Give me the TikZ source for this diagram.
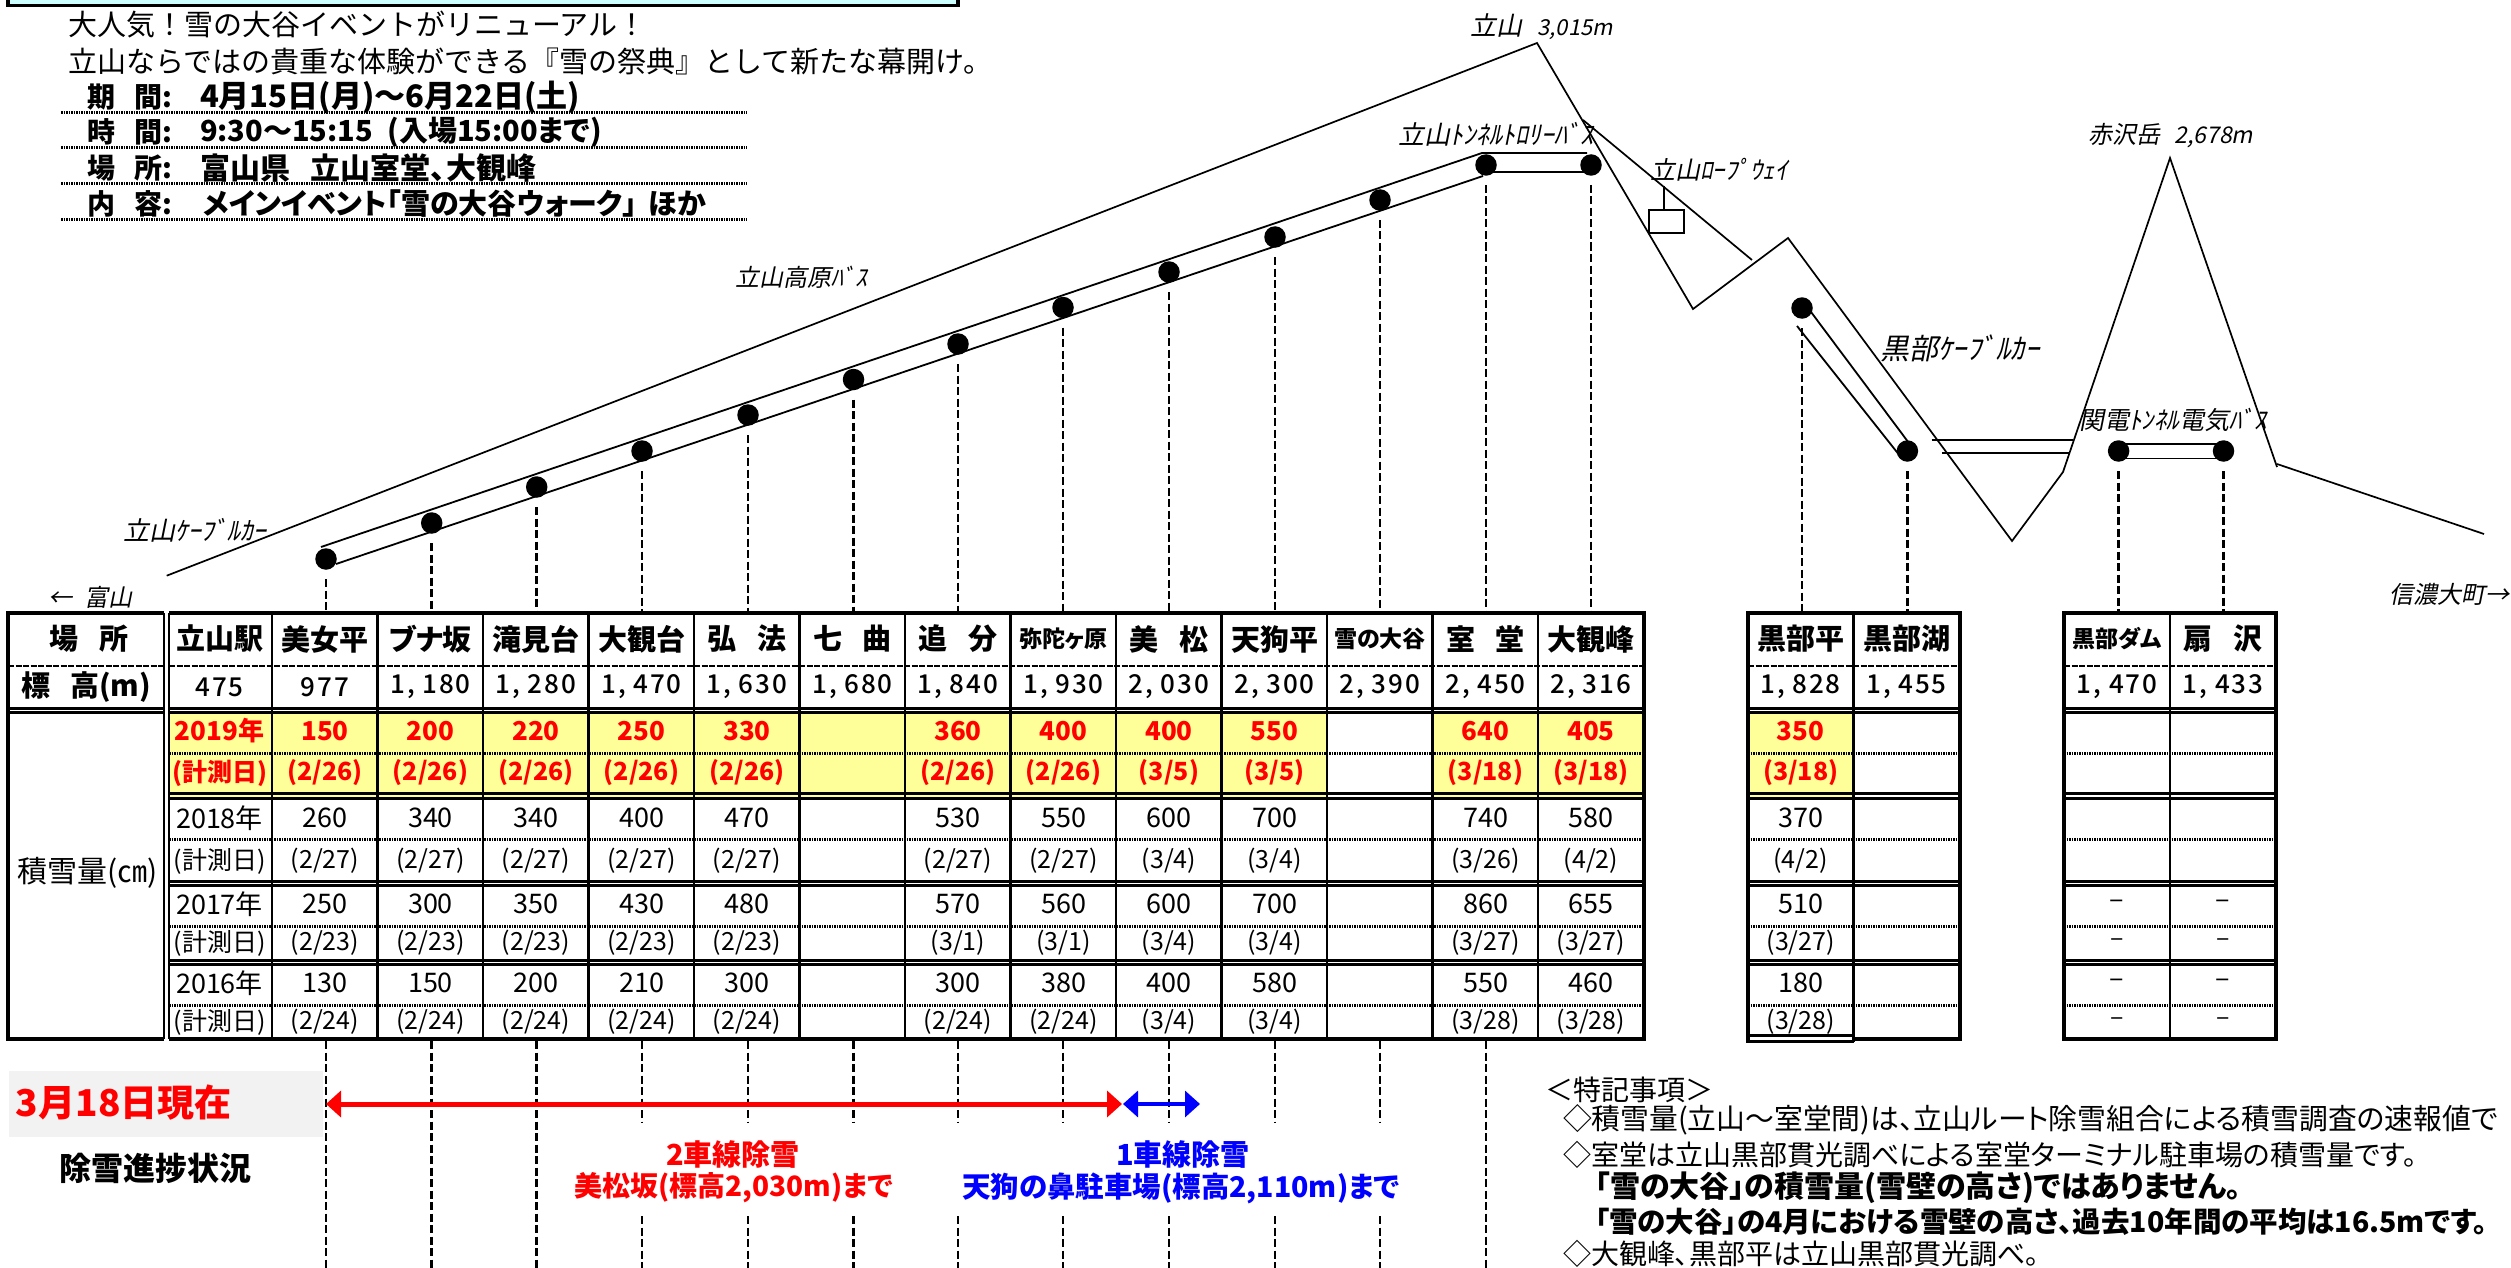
\documentclass[tikz,border=0pt]{standalone}
\usepackage{fontspec}
\usetikzlibrary{calc,arrows.meta}
\setmainfont{Noto Sans CJK JP}[RawFeature={+palt}]
\newfontfamily\jpit[FakeSlant=0.2]{Noto Sans CJK JP}
\newfontfamily\jpfull{Noto Sans CJK JP}
\newfontfamily\jpsp[LetterSpace=7]{Noto Sans CJK JP Medium}
\newcommand\fs[1]{\fontsize{#1}{#1}\selectfont}
\definecolor{ycell}{HTML}{FFFF99}
\definecolor{cyanbox}{HTML}{CCFFFF}
\definecolor{greybox}{HTML}{F2F2F2}
\def\noval{x}
\newcommand\putrow[4]{%
  \foreach \v [count=\k] in {#4}{%
    \edef\tmpv{\v}%
    \ifx\tmpv\noval\else
      \pgfmathsetmacro\cx{{219.5,325,430.5,536,641.5,747,852.5,958,1063.5,1169,1274.5,1380,1485.5,1591,1800.7,1906.7,2117,2223}[\k-1]}%
      \node[#3] (#1c\k) at (\cx,#2) {\v};
    \fi}}
\tikzset{
  x=1pt,y=-1pt,
  every node/.style={inner sep=0pt,outer sep=0pt},
  mtn/.style={line width=1.7pt,line join=miter},
  tube/.style={line width=1.8pt},
  dotnode/.style={circle,fill=black,minimum size=21.5pt},
  drop/.style={line width=2.8pt,dash pattern=on 8pt off 3.5pt},
  thick rule/.style={line width=3pt},
  outer rule/.style={line width=4.5pt},
  col rule/.style={line width=2.4pt},
  dash rule/.style={line width=2.8pt,dash pattern=on 6pt off 1.5pt},
  dot rule/.style={line width=3pt,dash pattern=on 1.5pt off 1pt},
  ital/.style={font=\jpit\fs{26},anchor=west},
  headc/.style={font=\fs{29}\bfseries},
  heads/.style={font=\fs{23}\bfseries},
  elev/.style={font=\jpsp\fs{26}},
  val/.style={font=\fs{27}},
  date/.style={font=\fs{25}},
  hotval/.style={font=\fs{26}\bfseries,text=red},
  hotdate/.style={font=\fs{25}\bfseries,text=red},
  intro/.style={font=\jpfull\fs{29},anchor=west},
  infolabel/.style={font=\fs{28}\bfseries,anchor=west},
  note/.style={font=\fs{28},anchor=west},
  noteb/.style={font=\fs{30}\bfseries,anchor=west},
  redhead/.style={font=\fs{29}\bfseries,text=red},
  bluehead/.style={font=\fs{29}\bfseries,text=blue},
}
\begin{document}
\begin{tikzpicture}
\useasboundingbox (0,0) rectangle (2511,1268);
\clip (0,0) rectangle (2511,1268);
% title strip
\draw[fill=cyanbox,line width=3.5pt] (8,-20) rectangle (958,5.5);
% intro
\node[intro] (i1) at (68,25) {大人気\char"FF01 雪の大谷イベントがリニューアル\char"FF01};
\node[intro] (i2) at (68,61) {立山ならではの貴重な体験ができる『雪の祭典』として新たな幕開け。};
\node[infolabel] (p1) at (87,97) {期\hspace{.7em}間:};
\node[infolabel] (p2) at (87,132) {時\hspace{.7em}間:};
\node[infolabel] (p3) at (87,168) {場\hspace{.7em}所:};
\node[infolabel] (p4) at (87,204) {内\hspace{.7em}容:};
\node[infolabel,font=\fs{31}\bfseries] (v1) at (200,97) {4月15日(月)〜6月22日(土)};
\node[infolabel,font=\fs{29}\bfseries] (v2) at (200,132) {9:30〜15:15\hspace{.5em}(入場15:00まで)};
\node[infolabel,font=\fs{30}\bfseries] (v3) at (200,168) {富山県\hspace{.7em}立山室堂、大観峰};
\node[infolabel,font=\fs{29}\bfseries] (v4) at (203,204) {メインイベント「雪の大谷ウォーク」\hspace{.4em}ほか};
\foreach \y in {113,148,184,220} \draw[dot rule] (61,\y) -- (747,\y);
% mountains
\draw[mtn] (166.7,575.7) -- (1537,43) -- (1693,309) -- (1788,238) -- (2012,541) -- (2063,472) -- (2170,158) -- (2277,467);
\draw[mtn] (2277,464) -- (2484,534);
\draw[mtn] (1583,120) -- (1752,260);
\draw[mtn] (1664,186) -- (1664,210);
\draw[mtn,fill=white] (1649,210) rectangle (1684,233);
% stations
\foreach \n/\x/\y in {1/326/559,2/431.7/523,3/536.7/487,4/642/451,5/748/415,6/853.5/379.5,7/958/344,8/1063/307.5,9/1169/272,10/1275/237,11/1380/200,12/1486/165,13/1591/165,14/1802/308,15/1907.4/451,16/2118.6/451,17/2223.5/451}
  \node[dotnode] (d\n) at (\x,\y) {};
% tubes
\draw[tube] ($(d1)+(-5,-12)$) -- ($(d12)+(-4,-12)$) -- ($(d13)+(-4,-12)$);
\draw[tube] ($(d1)+(10,5)$) -- ($(d12)+(-3,11)$);
\draw[tube] ($(d12)+(0,7)$) -- ($(d13)+(0,7)$);
\draw[tube] ($(d14)+(9,4)$) -- ($(d15)+(0,-10)$);
\draw[tube] ($(d14)+(-5,18)$) -- ($(d15)+(-9,3)$);
\draw[tube] (1931.5,440) -- (2073,440);
\draw[tube] (1942,453) -- (2070,453);
\draw[tube] ($(d16)+(0,-7)$) -- ($(d17)+(0,-7)$);
\draw[tube] ($(d16)+(0,7.5)$) -- ($(d17)+(0,7.5)$);
% drop lines above the tables
\foreach \n in {1,...,17} {
  \coordinate (top\n) at (d\n |- 0,611);
  \draw[drop] ($(d\n)+(0,20)$) -- (top\n);
}
% drop lines below the table
\foreach \n in {1,2,3,12} {
  \coordinate (bot\n) at (d\n |- 0,1041);
  \coordinate (end\n) at (d\n |- 0,1268);
  \draw[drop] (bot\n) -- (end\n);
}
\foreach \n in {4,...,11} {
  \coordinate (bot\n) at (d\n |- 0,1041);
  \coordinate (gapa\n) at (d\n |- 0,1123);
  \coordinate (gapb\n) at (d\n |- 0,1216);
  \coordinate (end\n) at (d\n |- 0,1268);
  \draw[drop] (bot\n) -- (gapa\n);
  \draw[drop] (gapb\n) -- (end\n);
}
% yellow cells
\fill[ycell] (169,712) rectangle (1326,798);
\fill[ycell] (1432,712) rectangle (1644,798);
\fill[ycell] (1748,712) rectangle (1853.5,798);
% horizontal rules
\foreach \xa/\xb in {169/1644,1748/1960,2064/2276} {
  \foreach \y in {708,712,793,798,881,885,960,964} \draw[thick rule] (\xa,\y) -- (\xb,\y);
  \foreach \y in {753,839,926.5,1005} \draw[dot rule] (\xa,\y) -- (\xb,\y);
  \draw[dash rule] (\xa,666) -- (\xb,666);
  \draw[outer rule] (\xa,613) -- (\xb,613);
}
\draw[outer rule] (169,1039) -- (1644,1039);
\draw[outer rule] (1853.5,1039) -- (1960,1039);
\draw[outer rule] (2064,1039) -- (2276,1039);
\draw[dash rule] (8,666) -- (164,666);
\foreach \y in {708,712} \draw[thick rule] (8,\y) -- (164,\y);
\draw[outer rule] (8,613) -- (164,613);
\draw[outer rule] (8,1039) -- (164,1039);
% vertical rules
\foreach \k in {1,...,13} {
  \pgfmathsetmacro\vx{166.5+105.5*\k}
  \draw[col rule] (\vx,613) -- (\vx,1039);
}
\draw[col rule] (1853.5,613) -- (1853.5,1042);
\draw[col rule] (2170,613) -- (2170,1039);
\draw[col rule] (164,613) -- (164,1039);
\draw[col rule] (169,613) -- (169,1039);
\foreach \x in {8,1644,1960,2064,2276} \draw[outer rule] (\x,610.8) -- (\x,1041.2);
\draw[outer rule] (1748,610.8) -- (1748,1043);
\draw[thick rule] (1748,1035) -- (1853.5,1035);
\draw[thick rule] (1748,1041.5) -- (1853.5,1041.5);
% left labels
\node[headc] (l1) at (89,639) {場\hspace{.7em}所};
\node[headc,anchor=west] (l2) at (21,687) {標\hspace{.7em}高(m)};
\node[font=\fs{30}] (l3) at (87.5,873) {積雪量(㎝)};
% headers
\foreach \t/\sty [count=\k] in {立山駅/headc,美女平/headc,ブナ坂/headc,滝見台/headc,大観台/headc,弘\hspace{.7em}法/headc,七\hspace{.7em}曲/headc,追\hspace{.7em}分/headc,弥陀ヶ原/heads,美\hspace{.7em}松/headc,天狗平/headc,雪の大谷/heads,室\hspace{.7em}堂/headc,大観峰/headc,黒部平/headc,黒部湖/headc,黒部ダム/heads,扇\hspace{.7em}沢/headc} {
  \pgfmathsetmacro\cx{{219.5,325,430.5,536,641.5,747,852.5,958,1063.5,1169,1274.5,1380,1485.5,1591,1800.7,1906.7,2117,2223}[\k-1]}
  \node[\sty] (h\k) at (\cx,639) {\t};
}
\putrow{e}{687}{elev}{475,977,{1, 180},{1, 280},{1, 470},{1, 630},{1, 680},{1, 840},{1, 930},{2, 030},{2, 300},{2, 390},{2, 450},{2, 316},{1, 828},{1, 455},{1, 470},{1, 433}}
\putrow{ra}{731}{hotval}{2019年,150,200,220,250,330,x,360,400,400,550,x,640,405,350,x,x,x}
\putrow{rb}{773}{hotdate}{(計測日),(2/26),(2/26),(2/26),(2/26),(2/26),x,(2/26),(2/26),(3/5),(3/5),x,(3/18),(3/18),(3/18),x,x,x}
\putrow{sa}{818}{val}{2018年,260,340,340,400,470,x,530,550,600,700,x,740,580,370,x,x,x}
\putrow{sb}{861}{date}{(計測日),(2/27),(2/27),(2/27),(2/27),(2/27),x,(2/27),(2/27),(3/4),(3/4),x,(3/26),(4/2),(4/2),x,x,x}
\putrow{ta}{904}{val}{2017年,250,300,350,430,480,x,570,560,600,700,x,860,655,510,x,–,–}
\putrow{tb}{943}{date}{(計測日),(2/23),(2/23),(2/23),(2/23),(2/23),x,(3/1),(3/1),(3/4),(3/4),x,(3/27),(3/27),(3/27),x,–,–}
\putrow{ua}{983}{val}{2016年,130,150,200,210,300,x,300,380,400,580,x,550,460,180,x,–,–}
\putrow{ub}{1022}{date}{(計測日),(2/24),(2/24),(2/24),(2/24),(2/24),x,(2/24),(2/24),(3/4),(3/4),x,(3/28),(3/28),(3/28),x,–,–}
% labels on the profile
\node[ital] (m1) at (123,530) {立山ｹｰﾌﾞﾙｶｰ};
\node[ital,font=\jpit\fs{24}] (m2) at (735,277) {立山高原ﾊﾞｽ};
\node[ital] (m3) at (1470,27) {立山\hspace{.6em}{\fs{22}3,015m}};
\node[ital] (m4) at (1398,134) {立山ﾄﾝﾈﾙﾄﾛﾘｰﾊﾞｽ};
\node[ital,font=\jpit\fs{25}] (m5) at (1650,170) {立山ﾛｰﾌﾟｳｪｲ};
\node[ital,font=\jpit\fs{29}] (m6) at (1880,348) {黒部ｹｰﾌﾞﾙｶｰ};
\node[ital,font=\jpit\fs{24}] (m7) at (2088,136) {赤沢岳\hspace{.6em}{\fs{23}2,678m}};
\node[ital,font=\jpit\fs{25}] (m8) at (2079,420) {関電ﾄﾝﾈﾙ電気ﾊﾞｽ};
\node[ital,font=\jpit\fs{24}] (m9) at (48,597) {←\hspace{.5em}富山};
\node[ital,font=\jpit\fs{24}] (m10) at (2389,594) {信濃大町→};
% progress
\fill[greybox] (9,1071) rectangle (323,1137);
\node[font=\fs{37}\bfseries,text=red,anchor=west] (g1) at (16,1103) {3月18日現在};
\node[font=\fs{32}\bfseries] (g2) at (155,1168) {除雪進捗状況};
\coordinate (ra1) at (326,1104);
\coordinate (ra2) at (1122,1104);
\coordinate (ba1) at (1123,1104);
\coordinate (ba2) at (1200,1104);
\draw[line width=5pt,red,{Triangle[length=15pt,width=26pt]}-{Triangle[length=15pt,width=26pt]}] (ra1) -- (ra2);
\draw[line width=3.5pt,blue,{Triangle[length=15pt,width=26pt]}-{Triangle[length=15pt,width=26pt]}] (ba1) -- (ba2);
\node[redhead] (t1) at (733,1154) {2車線除雪};
\node[redhead,font=\fs{28}\bfseries] (t2) at (734,1188) {美松坂(標高2,030m)まで};
\node[bluehead] (t3) at (1183,1154) {1車線除雪};
\node[bluehead,font=\fs{28.5}\bfseries] (t4) at (1181,1188) {天狗の鼻駐車場(標高2,110m)まで};
% notes
\node[note,font=\jpfull\fs{28}] (n0) at (1545,1090) {\char"FF1C 特記事項\char"FF1E};
\node[note,font=\fs{28.8}] (n1) at (1563,1120) {◇積雪量(立山〜室堂間)は、立山ルート除雪組合による積雪調査の速報値で};
\node[note] (n2) at (1563,1155) {◇室堂は立山黒部貫光調べによる室堂ターミナル駐車場の積雪量です。};
\node[noteb] (n3) at (1595,1188) {「雪の大谷」の積雪量(雪壁の高さ)ではありません。};
\node[noteb,font=\fs{28.5}\bfseries] (n4) at (1595,1222) {「雪の大谷」の4月における雪壁の高さ、過去10年間の平均は16.5mです。};
\node[note] (n5) at (1563,1254) {◇大観峰、黒部平は立山黒部貫光調べ。};
\end{tikzpicture}
\end{document}
